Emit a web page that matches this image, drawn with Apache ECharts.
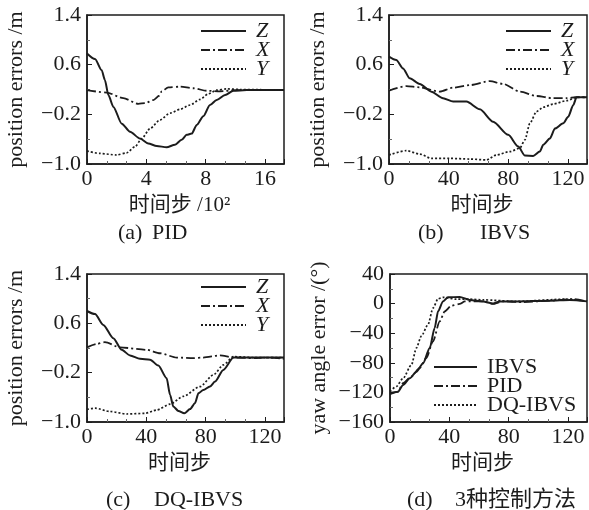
<!DOCTYPE html>
<html>
<head>
<meta charset="utf-8">
<script src="https://cdn.jsdelivr.net/npm/echarts@6/dist/echarts.min.js"></script>
<style>html,body{margin:0;padding:0;background:#fff;}#c{width:589px;height:510px;}</style>
</head>
<body>
<div id="c"></div>
<script>
// ---------- data (x, y) ----------
// (a) PID, x in units of 10^2 time steps
const aZ = [[0,0.78],[0.54,0.69],[0.99,0.51],[1.21,0.35],[1.44,0.11],[1.78,-0.08],[2.34,-0.35],[2.9,-0.48],[3.57,-0.59],[4.13,-0.67],[4.7,-0.71],[5.37,-0.73],[5.93,-0.69],[6.38,-0.61],[6.72,-0.53],[7.06,-0.51],[7.4,-0.37],[7.84,-0.23],[8.29,-0.05],[8.74,0.03],[9.31,0.11],[9.87,0.18],[10.77,0.19],[13.28,0.19]];
const aX = [[0,0.19],[1.33,0.15],[2.45,0.06],[3.46,-0.03],[3.91,-0.02],[4.47,0.03],[4.88,0.1],[5.03,0.17],[5.48,0.235],[6.27,0.245],[7.17,0.22],[8.07,0.18],[8.97,0.17],[10.1,0.19],[13.28,0.19]];
const aY = [[0,-0.79],[0.88,-0.83],[2.0,-0.855],[2.68,-0.82],[3.24,-0.72],[3.69,-0.59],[4.25,-0.43],[4.92,-0.29],[5.6,-0.18],[6.27,-0.12],[6.95,-0.05],[7.62,0.04],[8.18,0.13],[8.74,0.19],[9.42,0.21],[10.3,0.2],[13.28,0.19]];
// (b) IBVS
const bZ = [[0,0.73],[4.9,0.675],[9.4,0.54],[13.9,0.38],[20.6,0.29],[28.4,0.165],[36.2,0.06],[43,0.005],[51.9,0.005],[60.9,-0.12],[69.8,-0.32],[79.9,-0.53],[86.6,-0.72],[91.1,-0.865],[96.6,-0.87],[101.1,-0.8],[103.4,-0.69],[107.8,-0.59],[111.2,-0.43],[116.8,-0.345],[120.1,-0.24],[123.5,-0.05],[125.7,0.075],[132.7,0.075]];
const bX = [[0,0.18],[11.6,0.255],[20.6,0.235],[34,0.165],[43,0.23],[54.2,0.27],[67.6,0.335],[76.5,0.29],[87.7,0.165],[98.9,0.095],[110,0.06],[118.9,0.06],[125.7,0.075],[132.7,0.075]];
const bY = [[0,-0.855],[11.6,-0.785],[20.6,-0.84],[28.4,-0.91],[40.7,-0.91],[54.2,-0.92],[65.3,-0.935],[72,-0.855],[81,-0.8],[87.7,-0.745],[91.1,-0.61],[94.4,-0.345],[98.9,-0.155],[103.4,-0.085],[110,-0.035],[119,0.02],[125.7,0.075],[132.7,0.075]];
// (c) DQ-IBVS
const cZ = [[0,0.8],[5.4,0.75],[11,0.575],[17.7,0.36],[23.4,0.17],[29,0.08],[35.7,0.025],[42.5,0.01],[48.1,-0.085],[53.7,-0.29],[56,-0.56],[58.2,-0.75],[61.6,-0.82],[65.6,-0.86],[69.5,-0.79],[72.8,-0.695],[75.1,-0.535],[78.4,-0.48],[82.9,-0.425],[86.3,-0.345],[91.9,-0.155],[98.7,0.045],[132.8,0.045]];
const cX = [[0,0.21],[6.5,0.265],[12.1,0.295],[22.3,0.21],[40.2,0.17],[49.2,0.115],[60.5,0.045],[71.7,0.035],[78.4,0.045],[89.7,0.08],[98.7,0.045],[112,0.035],[121,0.045],[132.8,0.025]];
const cY = [[0,-0.795],[5.4,-0.775],[15.5,-0.83],[26.8,-0.87],[39.1,-0.86],[47,-0.805],[56,-0.71],[64.9,-0.585],[76.2,-0.425],[85.2,-0.235],[91.9,-0.075],[98.7,0.06],[112,0.045],[132.8,0.045]];
// (d) yaw angle error, three methods
const dIBVS = [[0,-121],[5.4,-119],[8.8,-110],[13.3,-101],[17.8,-92],[22.3,-80.5],[26.8,-60],[30.1,-33],[32.4,-10.5],[35.7,3],[39.1,8.5],[47,9],[53.7,5],[62.7,3],[69.5,0],[74,3],[85.2,3],[107.7,4],[121.2,5],[132.8,3]];
const dPID = [[0,-122.5],[5.4,-119],[8.8,-107.5],[14.4,-98.5],[20,-87],[24.5,-73.5],[29,-51],[33.5,-24],[36.9,-10.5],[41.3,-3],[47,-0.5],[50.4,3],[62.7,3],[69.5,-0.5],[76.2,3],[89.7,2],[107.7,4],[123.4,6],[132.8,3]];
const dDQ = [[0,-119],[4.3,-112],[8.8,-101],[14.4,-83],[17.8,-60],[21.1,-44],[25.6,-28.5],[29,-6],[32.4,6.5],[35.7,8.5],[44.7,6],[53.7,6],[62.7,5],[85.2,3],[118.9,6],[132.8,3]];

// ---------- tick labels ----------
const xTicksA = [0,4,8,12];
const xLabelsA = ['0','4','8','16'];
const xTicksB = [0,40,80,120];
const xLabelsB = ['0','40','80','120'];
const yTicksPos = [-1.0,-0.2,0.6,1.4];
const yLabelsPos = ['\u22121.0','\u22120.2','0.6','1.4'];
const yTicksYaw = [-160,-120,-80,-40,0,40];
const yLabelsYaw = ['\u2212160','\u2212120','\u221280','\u221240','0','40'];

const legendPos = ['Z','X','Y'];
const legendYaw = ['IBVS','PID','DQ-IBVS'];
const captions = [['(a)','PID'],['(b)','IBVS'],['(c)','DQ-IBVS'],['(d)','3种控制方法']];

// ---------- styles ----------
const FONT = "'Liberation Serif','Noto Sans CJK SC',serif";
const INK = '#1c1c1c';
const styles = {
  solid: {type:'solid', width:2},
  dashdot: {type:[9,3,2,3], width:1.8},
  dotted: {type:[2,2], width:1.7}
};

function labelFor(ticks, labels){
  return function(v){
    for (let i=0;i<ticks.length;i++){ if (Math.abs(v-ticks[i])<1e-6) return labels[i]; }
    return '';
  };
}
function xAxis(gi, max, ticks, labels, name){
  return {
    type:'value', gridIndex:gi, min:ticks[0], max:max, interval:ticks[1]-ticks[0],
    name:name, nameLocation:'middle', nameGap:31,
    nameTextStyle:{fontSize:21, color:INK, fontFamily:FONT, padding:[0,12,0,0]},
    axisLine:{show:true, onZero:false, lineStyle:{color:INK, width:1.5}},
    axisTick:{show:true, inside:true, length:5, lineStyle:{color:INK, width:1}},
    minorTick:{show:true, splitNumber:3, length:3, lineStyle:{color:'#666', width:1}},
    splitLine:{show:false},
    axisLabel:{fontSize:22, color:INK, fontFamily:FONT, margin:4, showMaxLabel:false, formatter:labelFor(ticks, labels)}
  };
}
function yAxis(gi, ticks, labels, name){
  return {
    type:'value', gridIndex:gi, min:ticks[0], max:ticks[ticks.length-1], interval:ticks[1]-ticks[0],
    name:name, nameLocation:'middle', nameGap:60,
    nameTextStyle:{fontSize:22, color:INK, fontFamily:FONT},
    axisLine:{show:true, onZero:false, lineStyle:{color:INK, width:1.5}},
    axisTick:{show:true, inside:true, length:5, lineStyle:{color:INK, width:1}},
    minorTick:{show:true, splitNumber:2, length:3, lineStyle:{color:'#666', width:1}},
    splitLine:{show:false},
    axisLabel:{fontSize:22, color:INK, fontFamily:FONT, margin:6, formatter:labelFor(ticks, labels)}
  };
}
function line(name, gi, data, st){
  return {type:'line', name:name, xAxisIndex:gi, yAxisIndex:gi, data:data, symbol:'none', showSymbol:false,
    smooth:0.25, smoothMonotone:'x', clip:true,
    lineStyle:{color:INK, width:st.width, type:st.type}, itemStyle:{color:INK}};
}
function legend(data, left, top, italic, w){
  return {data:data, orient:'vertical', left:left, top:top, itemWidth:w, itemHeight:14, itemGap:-3,
    selectedMode:false, itemStyle:{opacity:0},
    textStyle:{fontSize:22, color:INK, fontFamily:FONT, fontStyle: italic?'italic':'normal', padding:[0,0,0,5]}};
}
function caption(c, left, top, w){
  return {text:'{p|'+c[0]+'}{t|'+c[1]+'}', left:left, top:top,
    textStyle:{fontWeight:'normal', rich:{p:{width:w, fontSize:22, fontWeight:'normal', fontFamily:FONT, color:INK}, t:{fontSize:22, fontWeight:'normal', fontFamily:FONT, color:INK}}}};
}

const option = {
  animation:false,
  backgroundColor:'#fff',
  grid:[
    {left:87, top:15, width:197, height:149, show:true, borderColor:INK, borderWidth:1.5},
    {left:389, top:15, width:198, height:149, show:true, borderColor:INK, borderWidth:1.5},
    {left:87, top:274, width:197, height:148, show:true, borderColor:INK, borderWidth:1.5},
    {left:390, top:274, width:197, height:148, show:true, borderColor:INK, borderWidth:1.5}
  ],
  xAxis:[
    xAxis(0, 13.28, xTicksA, xLabelsA, '时间步 /10²'),
    xAxis(1, 132.7, xTicksB, xLabelsB, '时间步'),
    xAxis(2, 132.8, xTicksB, xLabelsB, '时间步'),
    xAxis(3, 132.8, xTicksB, xLabelsB, '时间步')
  ],
  yAxis:[
    yAxis(0, yTicksPos, yLabelsPos, 'position errors /m'),
    yAxis(1, yTicksPos, yLabelsPos, 'position errors /m'),
    yAxis(2, yTicksPos, yLabelsPos, 'position errors /m'),
    yAxis(3, yTicksYaw, yLabelsYaw, 'yaw angle error /(°)')
  ],
  legend:[
    legend(legendPos, 195, 15, true, 45),
    legend(legendPos, 500, 15, true, 45),
    legend(legendPos, 195, 271, true, 45),
    legend(legendYaw, 428, 351, false, 43)
  ],
  title:[
    caption(captions[0], 113, 217, 34),
    caption(captions[1], 413, 217, 62),
    caption(captions[2], 101, 484, 48),
    caption(captions[3], 402, 484, 48)
  ],
  series:[
    line('Z',0,aZ,styles.solid), line('X',0,aX,styles.dashdot), line('Y',0,aY,styles.dotted),
    line('Z',1,bZ,styles.solid), line('X',1,bX,styles.dashdot), line('Y',1,bY,styles.dotted),
    line('Z',2,cZ,styles.solid), line('X',2,cX,styles.dashdot), line('Y',2,cY,styles.dotted),
    line('IBVS',3,dIBVS,styles.solid), line('PID',3,dPID,styles.dashdot), line('DQ-IBVS',3,dDQ,styles.dotted)
  ]
};
const chart = echarts.init(document.getElementById('c'), null, {renderer:'canvas'});
chart.setOption(option);
</script>
</body>
</html>
